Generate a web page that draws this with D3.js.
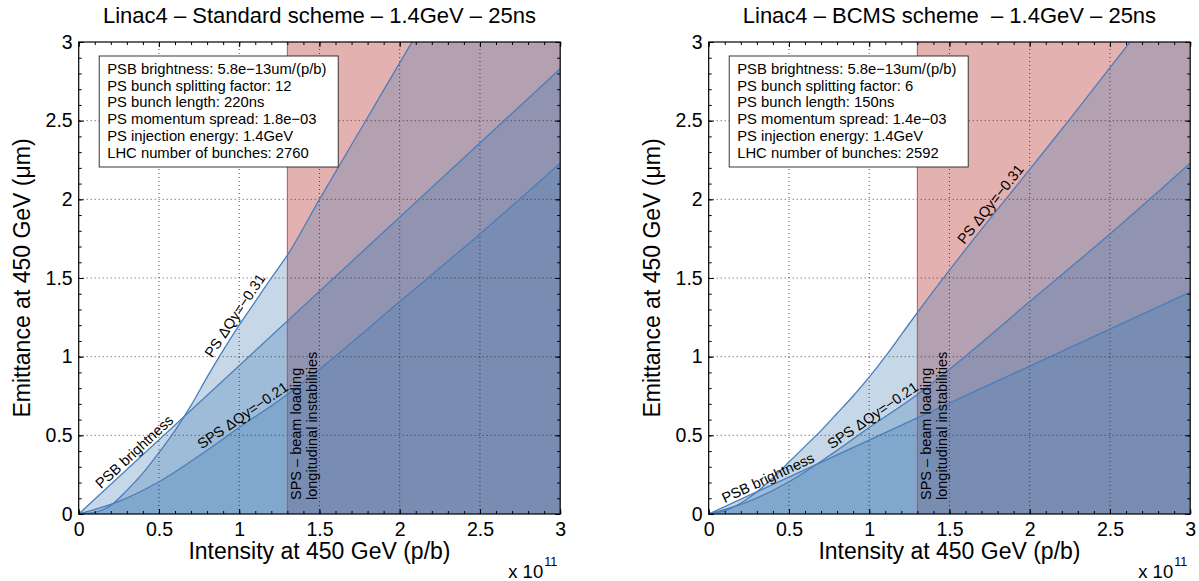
<!DOCTYPE html>
<html>
<head>
<meta charset="utf-8">
<script src="https://cdn.jsdelivr.net/npm/d3@7"></script>
<style>
  body { margin: 0; background: #fff; }
  svg { font-family: "Liberation Sans", Arial, Helvetica, sans-serif; }
</style>
</head>
<body>
<div id="wrapper"></div>
<script>
// intensity in units of 1e11 p/b, emittance at 450 GeV in um
const tickValues = [0, 0.5, 1, 1.5, 2, 2.5, 3]
const tickLabels = ["0", "0.5", "1", "1.5", "2", "2.5", "3"]
const minorTicks = d3.range(0, 3.01, 0.1)
const spsLimitX = 1.3

// SPS space charge limit (same for both schemes)
const spsX = [0, 0.25, 0.5, 0.75, 1, 1.3, 1.5, 2, 2.5, 3]
const spsY = [0, 0.08, 0.205, 0.37, 0.55, 0.76, 0.92, 1.35, 1.78, 2.23]

// standard scheme
const stdPsX = [0, 0.1, 0.2, 0.3, 0.4, 0.5, 0.6, 0.7, 0.8, 0.9, 1.0, 1.1, 1.2, 1.3, 1.5, 1.8, 2.1, 2.5, 3]
const stdPsY = [0, 0.01, 0.055, 0.15, 0.26, 0.39, 0.53, 0.69, 0.87, 1.04, 1.2, 1.35, 1.5, 1.645, 2.0, 2.52, 3.04, 3.72, 4.57]
const stdPsbX = [0, 3]
const stdPsbY = [0, 2.83]
const stdInfo = [
    "PSB brightness: 5.8e\u221213um/(p/b)",
    "PS bunch splitting factor: 12",
    "PS bunch length: 220ns",
    "PS momentum spread: 1.8e\u221203",
    "PS injection energy: 1.4GeV",
    "LHC number of bunches: 2760"
]

// BCMS scheme
const bcmsPsX = [0, 0.1, 0.2, 0.3, 0.4, 0.5, 0.6, 0.7, 0.8, 0.9, 1.0, 1.1, 1.2, 1.3, 1.5, 2.0, 2.25, 2.625, 3]
const bcmsPsY = [0, 0.02, 0.07, 0.14, 0.23, 0.33, 0.43, 0.53, 0.64, 0.75, 0.87, 1.0, 1.14, 1.28, 1.55, 2.19, 2.51, 3.0, 3.49]
const bcmsPsbX = [0, 3]
const bcmsPsbY = [0, 1.41]
const bcmsInfo = [
    "PSB brightness: 5.8e\u221213um/(p/b)",
    "PS bunch splitting factor: 6",
    "PS bunch length: 150ns",
    "PS momentum spread: 1.4e\u221203",
    "PS injection energy: 1.4GeV",
    "LHC number of bunches: 2592"
]

const panels = [
    {
        id: "std", left: 78.7,
        title: "Linac4 \u2013 Standard scheme \u2013 1.4GeV \u2013 25ns",
        info: stdInfo,
        curves: { ps: [stdPsX, stdPsY], psb: [stdPsbX, stdPsbY], sps: [spsX, spsY] },
        labels: [
            { text: "PSB brightness", curve: "psb", at: 0.38, dy: -3 },
            { text: "PS \u0394Qy=\u22120.31", curve: "ps", at: 1.02, dy: -4 },
            { text: "SPS \u0394Qy=\u22120.21", curve: "sps", at: 1.05, dy: -3 }
        ]
    },
    {
        id: "bcms", left: 708.7,
        title: "Linac4 \u2013 BCMS scheme  \u2013 1.4GeV \u2013 25ns",
        info: bcmsInfo,
        curves: { ps: [bcmsPsX, bcmsPsY], psb: [bcmsPsbX, bcmsPsbY], sps: [spsX, spsY] },
        labels: [
            { text: "PSB brightness", curve: "psb", at: 0.39, dy: -3 },
            { text: "SPS \u0394Qy=\u22120.21", curve: "sps", at: 1.05, dy: -3 },
            { text: "PS \u0394Qy=\u22120.31", curve: "ps", at: 1.8, dy: -4 }
        ]
    }
]

const plotW = 481.5
const plotTop = 42, plotBottom = 514

const wrapper = d3.select("#wrapper")
    .append("svg")
        .attr("width", 1199)
        .attr("height", 581)

panels.forEach(drawPanel)

function interp(xs, ys, x) {
    const i = Math.min(xs.length - 1, Math.max(1, d3.bisectLeft(xs, x)))
    const t = (x - xs[i - 1]) / (xs[i] - xs[i - 1])
    return ys[i - 1] + t * (ys[i] - ys[i - 1])
}

function drawPanel(p) {
    const x = d3.scaleLinear().domain([0, 3]).range([p.left, p.left + plotW])
    const y = d3.scaleLinear().domain([0, 3]).range([plotBottom, plotTop])

    const g = wrapper.append("g").attr("id", p.id)

    g.append("clipPath").attr("id", "clip-" + p.id)
        .append("rect")
            .attr("x", x(0)).attr("y", y(3))
            .attr("width", x(3) - x(0)).attr("height", y(0) - y(3))

    const plot = g.append("g").attr("clip-path", `url(#clip-${p.id})`)

    // SPS beam loading band
    plot.append("rect")
        .attr("x", x(spsLimitX)).attr("y", y(3))
        .attr("width", x(3) - x(spsLimitX)).attr("height", y(0) - y(3))
        .attr("fill", "#e4b1b1")

    const area = d3.area()
        .x(d => x(d[0])).y0(y(0)).y1(d => y(d[1]))
        .curve(d3.curveMonotoneX)
    const line = d3.line()
        .x(d => x(d[0])).y(d => y(d[1]))
        .curve(d3.curveMonotoneX)

    const keys = ["ps", "psb", "sps"]
    const series = keys.map(k => d3.zip(p.curves[k][0], p.curves[k][1]))

    plot.selectAll(".fill")
        .data(series)
        .join("path")
        .attr("class", "fill")
        .attr("d", area)
        .attr("fill", "rgb(65,122,178)")
        .attr("fill-opacity", 0.3)

    // grid
    const grid = plot.append("g")
        .attr("stroke", "#222")
        .attr("stroke-width", 0.8)
        .attr("stroke-dasharray", "1,3")
    grid.selectAll(".gx")
        .data(tickValues.slice(1, -1))
        .join("line")
        .attr("class", "gx")
        .attr("x1", d => x(d)).attr("x2", d => x(d))
        .attr("y1", y(0)).attr("y2", y(3))
    grid.selectAll(".gy")
        .data(tickValues.slice(1, -1))
        .join("line")
        .attr("class", "gy")
        .attr("y1", d => y(d)).attr("y2", d => y(d))
        .attr("x1", x(0)).attr("x2", x(3))

    plot.append("line")
        .attr("x1", x(spsLimitX)).attr("x2", x(spsLimitX))
        .attr("y1", y(0)).attr("y2", y(3))
        .attr("stroke", "#c0504d")
        .attr("stroke-width", 1)

    plot.selectAll(".curve")
        .data(series)
        .join("path")
        .attr("class", "curve")
        .attr("d", line)
        .attr("fill", "none")
        .attr("stroke", "#4a7ebb")
        .attr("stroke-width", 1.3)

    // curve labels, rotated along the curve
    p.labels.forEach(l => {
        const [xs, ys] = p.curves[l.curve]
        const px = x(l.at), py = y(interp(xs, ys, l.at))
        const ang = Math.atan2(
            y(interp(xs, ys, l.at + 0.05)) - y(interp(xs, ys, l.at - 0.05)),
            x(l.at + 0.05) - x(l.at - 0.05)) * 180 / Math.PI
        g.append("text")
            .attr("transform", `translate(${px},${py}) rotate(${ang})`)
            .attr("dy", l.dy)
            .attr("text-anchor", "middle")
            .attr("font-size", "14.5px")
            .text(l.text)
    })

    // vertical annotation
    const vt = ["SPS \u2013 beam loading", "longitudinal instabilities"]
    g.selectAll(".vlabel")
        .data(vt)
        .join("text")
        .attr("class", "vlabel")
        .attr("transform", (d, i) => `translate(${x(spsLimitX) + 14 + i * 16},${y(0) - 14}) rotate(-90)`)
        .attr("font-size", "14.5px")
        .text(d => d)

    // info box
    const box = g.append("g")
        .attr("transform", `translate(${x(0) + 20.5},${plotTop + 14})`)
    box.append("rect")
        .attr("width", 239).attr("height", 111)
        .attr("fill", "white")
        .attr("stroke", "#222")
        .attr("stroke-width", 0.9)
    box.selectAll("text")
        .data(p.info)
        .join("text")
        .attr("x", 8)
        .attr("y", (d, i) => 18 + i * 16.7)
        .attr("font-size", "14.8px")
        .text(d => d)

    // axes
    const major = 5, minor = 3
    const addAxis = (axis, tr, labels) => {
        const a = g.append("g").attr("transform", tr).call(axis)
        a.select(".domain").remove()
        a.selectAll("line").attr("stroke", "#000")
        if (!labels) a.selectAll("text").remove()
        a.selectAll("text").attr("font-size", "19.5px").attr("fill", "#000")
            .attr("font-family", "Liberation Sans, Arial, sans-serif")
        return a
    }
    const fmt = (d, i) => tickLabels[i]
    addAxis(d3.axisBottom(x).tickValues(tickValues).tickFormat(fmt).tickSize(-major).tickPadding(8), `translate(0,${y(0)})`, true)
    addAxis(d3.axisLeft(y).tickValues(tickValues).tickFormat(fmt).tickSize(-major).tickPadding(6), `translate(${x(0)},0)`, true)
    addAxis(d3.axisTop(x).tickValues(tickValues).tickSize(-major), `translate(0,${y(3)})`, false)
    addAxis(d3.axisRight(y).tickValues(tickValues).tickSize(-major), `translate(${x(3)},0)`, false)
    addAxis(d3.axisBottom(x).tickValues(minorTicks).tickSize(-minor), `translate(0,${y(0)})`, false)
    addAxis(d3.axisLeft(y).tickValues(minorTicks).tickSize(-minor), `translate(${x(0)},0)`, false)
    addAxis(d3.axisTop(x).tickValues(minorTicks).tickSize(-minor), `translate(0,${y(3)})`, false)
    addAxis(d3.axisRight(y).tickValues(minorTicks).tickSize(-minor), `translate(${x(3)},0)`, false)

    g.append("rect")
        .attr("x", x(0)).attr("y", y(3))
        .attr("width", x(3) - x(0)).attr("height", y(0) - y(3))
        .attr("fill", "none")
        .attr("stroke", "#000")
        .attr("stroke-width", 1.2)

    // titles
    const cx = (x(0) + x(3)) / 2
    g.append("text")
        .attr("x", cx).attr("y", 23)
        .attr("text-anchor", "middle")
        .attr("font-size", "22px")
        .style("white-space", "pre")
        .text(p.title)
    g.append("text")
        .attr("x", cx).attr("y", 559)
        .attr("text-anchor", "middle")
        .attr("font-size", "23px")
        .text("Intensity at 450 GeV (p/b)")
    g.append("text")
        .attr("transform", `translate(${x(0) - 56.5},${(y(0) + y(3)) / 2}) rotate(-90)`)
        .attr("dy", "0.35em")
        .attr("text-anchor", "middle")
        .attr("font-size", "23px")
        .text("Emittance at 450 GeV (\u03bcm)")
    g.append("text")
        .attr("x", x(3) - 17).attr("y", 578)
        .attr("text-anchor", "end")
        .attr("font-size", "18.5px")
        .text("x 10")
    g.append("text")
        .attr("x", x(3) - 16).attr("y", 566)
        .attr("font-size", "12.5px")
        .text("11")
}
</script>
</body>
</html>
